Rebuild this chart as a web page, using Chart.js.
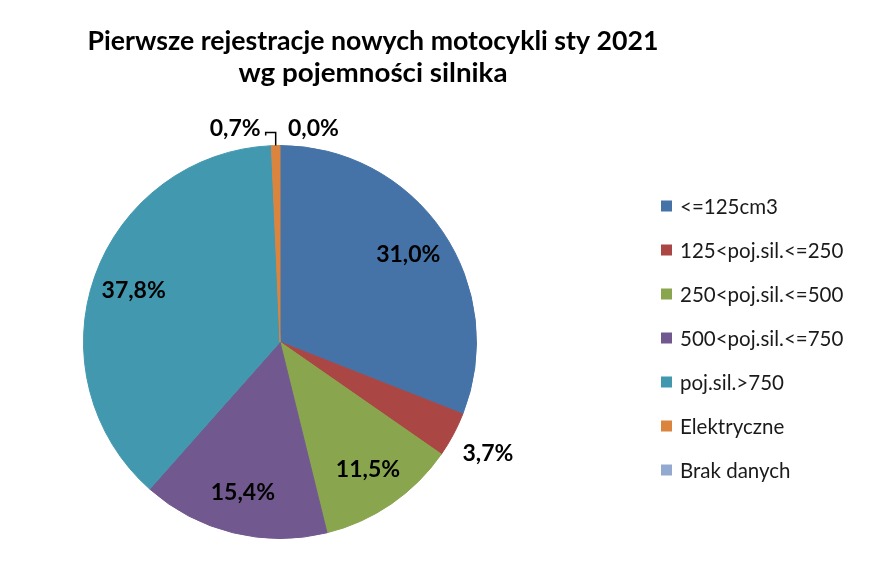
<!DOCTYPE html>
<html>
<head>
<meta charset="utf-8">
<script src="https://cdn.jsdelivr.net/npm/chart.js@4.4.1/dist/chart.umd.min.js"></script>
<style>
  html, body { margin: 0; padding: 0; background: #fff; }
  #wrap { width: 892px; height: 577px; }
</style>
</head>
<body>
<div id="wrap"><canvas id="myChart" width="892" height="577"></canvas></div>
<script>
const titleLines = ['Pierwsze rejestracje nowych motocykli sty 2021', 'wg pojemności silnika']
const categories = ['<=125cm3', '125<poj.sil.<=250', '250<poj.sil.<=500', '500<poj.sil.<=750', 'poj.sil.>750', 'Elektryczne', 'Brak danych']
const shares = [31.0, 3.7, 11.5, 15.4, 37.8, 0.7, 0.0]
const colors = ['#4572A7', '#AA4643', '#89A54E', '#71588F', '#4198AF', '#DB843D', '#93A9CF']

const fmt = v => v.toFixed(1).replace('.', ',') + '%'

// title, slice labels and legend drawn on top of the pie
const extras = {
    id: 'extras',
    afterDraw(chart) {
        const c = chart.ctx
        c.save()

        // title (condensed a bit to mimic Calibri)
        c.fillStyle = '#000'
        c.textAlign = 'center'
        c.textBaseline = 'middle'
        c.font = 'bold 27px Lato'
        titleLines.forEach((line, i) => {
            const w = c.measureText(line).width
            const target = i === 0 ? 571 : 269
            c.save()
            c.translate(373, 41 + i * 32)
            c.scale(target / w, 1)
            c.fillText(line, 0, 0)
            c.restore()
        })

        // slice labels
        const meta = chart.getDatasetMeta(0)
        c.font = 'bold 23px Lato'
        c.fillStyle = '#000'
        meta.data.forEach((arc, i) => {
            const v = shares[i]
            const mid = (arc.startAngle + arc.endAngle) / 2
            const R = arc.outerRadius
            if (v >= 5) {
                c.textAlign = 'center'
                c.fillText(fmt(v), arc.x + Math.cos(mid) * R * 0.79, arc.y + Math.sin(mid) * R * 0.79)
            } else if (v >= 1) {
                c.textAlign = 'center'
                c.fillText(fmt(v), arc.x + Math.cos(mid) * R * 1.2, arc.y + Math.sin(mid) * R * 1.2)
            } else {
                const ax = arc.x + Math.cos(mid) * R
                const ay = arc.y + Math.sin(mid) * R
                if (v > 0) {
                    // leader line going up then left
                    c.strokeStyle = '#000'
                    c.lineWidth = 1.5
                    c.beginPath()
                    c.moveTo(ax, ay)
                    c.lineTo(ax, ay - 13)
                    c.lineTo(ax - 10, ay - 13)
                    c.lineTo(ax - 10, ay - 10)
                    c.stroke()
                    c.textAlign = 'right'
                    c.fillText(fmt(v), ax - 15, ay - 17)
                } else {
                    c.textAlign = 'left'
                    c.fillText(fmt(v), ax + 8, ay - 17)
                }
            }
        })

        // legend
        c.font = '20.5px Lato'
        c.textAlign = 'left'
        categories.forEach((name, i) => {
            const y = 206 + i * 44
            c.fillStyle = colors[i]
            c.fillRect(661, y - 5.5, 11, 11)
            c.fillStyle = '#1a1a1a'
            c.fillText(name, 680, y + 1)
        })

        c.restore()
    }
}

new Chart(document.getElementById('myChart'), {
    type: 'pie',
    data: {
        labels: categories,
        datasets: [{
            data: shares,
            backgroundColor: colors,
            borderColor: colors,
            borderWidth: 1
        }]
    },
    options: {
        responsive: false,
        animation: false,
        devicePixelRatio: 1,
        layout: { padding: { left: 83, top: 145, right: 415, bottom: 38 } },
        plugins: {
            legend: { display: false },
            title: { display: false },
            tooltip: { enabled: false }
        }
    },
    plugins: [extras]
});
</script>
</body>
</html>
